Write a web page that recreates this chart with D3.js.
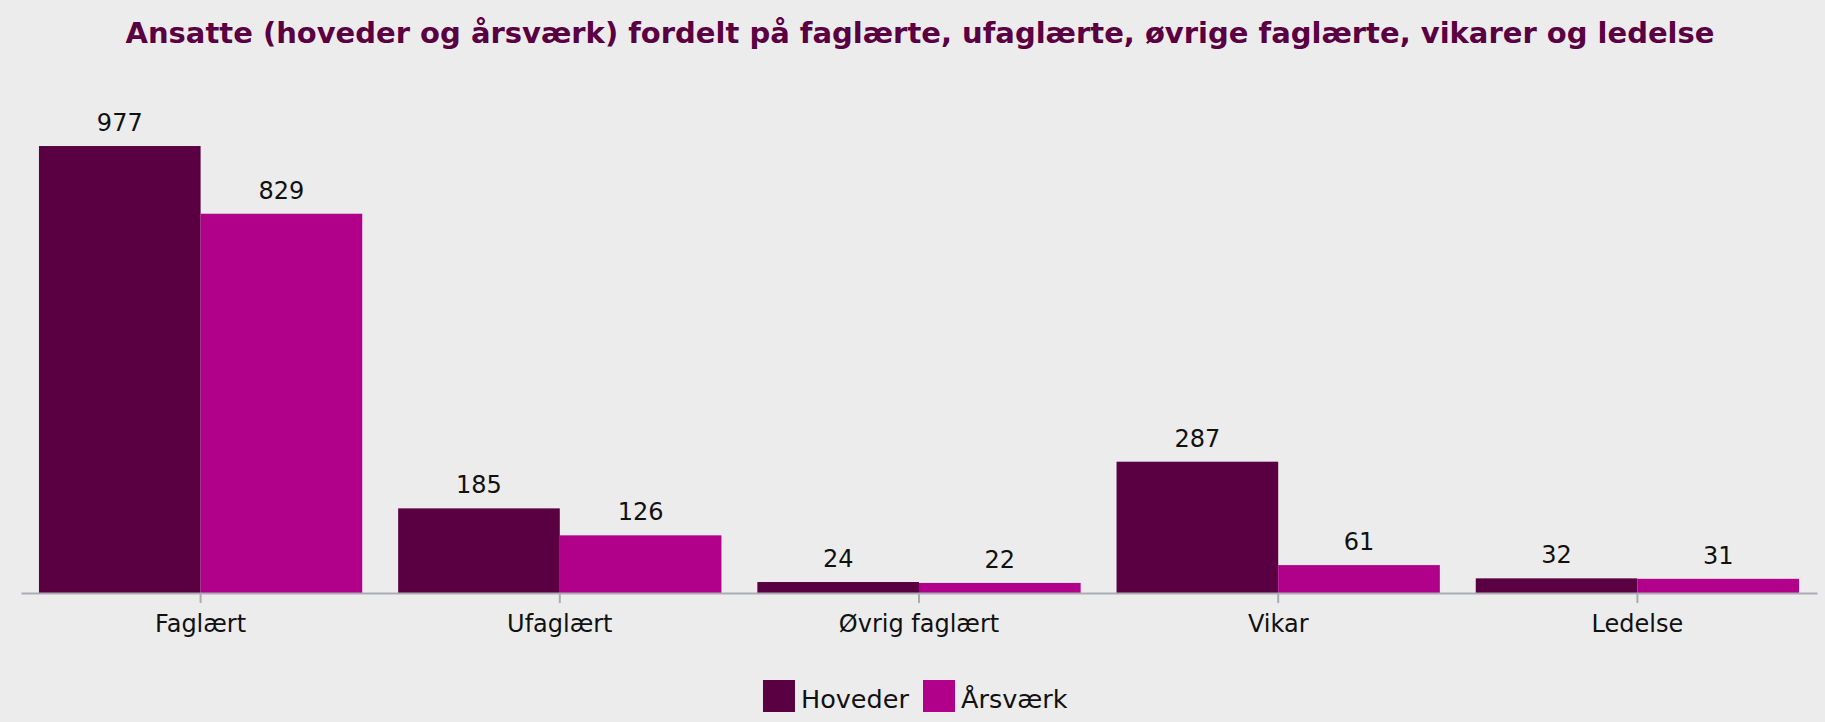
<!DOCTYPE html>
<html>
<head>
<meta charset="utf-8">
<script src="https://cdn.jsdelivr.net/npm/d3@7"></script>
<style>
  html, body { margin: 0; padding: 0; background: #ececec; }
  svg { display: block; font-family: "DejaVu Sans", Verdana, sans-serif; }
</style>
</head>
<body>
<svg id="chart" width="1825" height="722"></svg>
<script>
const categories = ["Faglært", "Ufaglært", "Øvrig faglært", "Vikar", "Ledelse"];
const seriesNames = ["Hoveder", "Årsværk"];
const hoveder = [977, 185, 24, 287, 32];
const aarsvaerk = [829, 126, 22, 61, 31];
const titleText = "Ansatte (hoveder og årsværk) fordelt på faglærte, ufaglærte, øvrige faglærte, vikarer og ledelse";
const colors = ["#5a0042", "#b1008a"];

const W = 1825, H = 722;
const svg = d3.select("#chart");
svg.append("rect").attr("width", W).attr("height", H).attr("fill", "#ececec");

const plot = { left: 21, right: 1817, bottom: 593 };

const x = d3.scaleBand().domain(categories).range([plot.left, plot.right])
  .paddingInner(0.1).paddingOuter(0.05);
const xs = d3.scaleBand().domain(seriesNames).range([0, x.bandwidth()]);
const y = d3.scaleLinear().domain([0, 1000]).range([plot.bottom, 135.5]);

const rows = categories.map((c, i) => ({ cat: c, vals: [hoveder[i], aarsvaerk[i]] }));

// title
svg.append("text")
  .attr("x", 920).attr("y", 43)
  .attr("text-anchor", "middle")
  .attr("font-size", 29).attr("font-weight", "bold")
  .attr("fill", "#5a0042")
  .text(titleText);

// bars
const g = svg.append("g");
const groups = g.selectAll("g.grp").data(rows).join("g")
  .attr("class", "grp")
  .attr("transform", d => `translate(${x(d.cat)},0)`);

groups.selectAll("rect").data(d => d.vals.map((v, j) => ({ v, s: seriesNames[j], j })))
  .join("rect")
  .attr("x", d => xs(d.s))
  .attr("width", xs.bandwidth())
  .attr("y", d => y(d.v))
  .attr("height", d => y(0) - y(d.v))
  .attr("fill", d => colors[d.j]);

groups.selectAll("text.val").data(d => d.vals.map((v, j) => ({ v, s: seriesNames[j] })))
  .join("text")
  .attr("class", "val")
  .attr("x", d => xs(d.s) + xs.bandwidth() / 2)
  .attr("y", d => y(d.v) - 15)
  .attr("text-anchor", "middle")
  .attr("font-size", 24)
  .attr("fill", "#111")
  .text(d => d.v);

// x axis
const axis = svg.append("g")
  .attr("transform", `translate(0,${plot.bottom})`)
  .call(d3.axisBottom(x).tickSize(10).tickSizeOuter(0).tickPadding(12));
axis.select(".domain").attr("stroke", "#a9adb3").attr("stroke-width", 2);
axis.selectAll(".tick line").attr("stroke", "#a9adb3").attr("stroke-width", 2);
axis.selectAll(".tick text")
  .attr("font-size", 24)
  .attr("font-family", "DejaVu Sans, Verdana, sans-serif")
  .attr("fill", "#111");

// legend
const legendX = [763, 923];
const leg = svg.append("g");
seriesNames.forEach((s, i) => {
  leg.append("rect").attr("x", legendX[i]).attr("y", 680)
    .attr("width", 32).attr("height", 32).attr("fill", colors[i]);
  leg.append("text").attr("x", legendX[i] + 38).attr("y", 708)
    .attr("font-size", 25.5).attr("fill", "#111").text(s);
});
</script>
</body>
</html>
